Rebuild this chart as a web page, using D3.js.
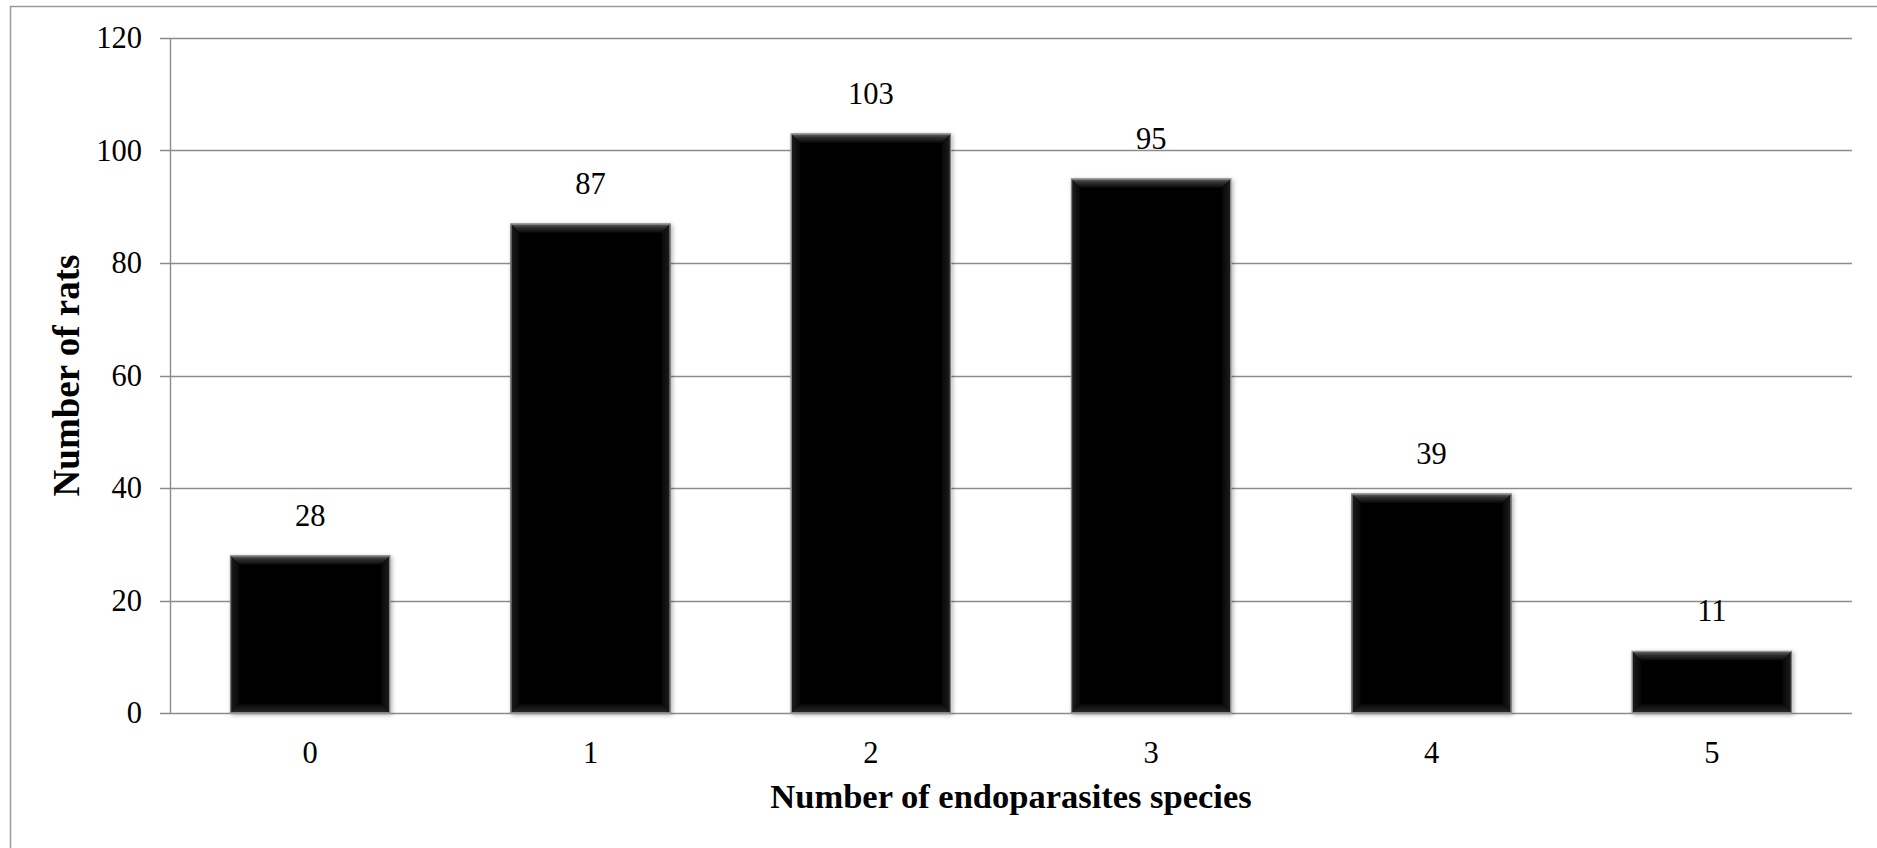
<!DOCTYPE html>
<html>
<head>
<meta charset="utf-8">
<script src="https://cdn.jsdelivr.net/npm/d3@7"></script>
<style>
  html, body { margin: 0; padding: 0; background: #fff; }
  svg { display: block; }
  text { font-family: "Liberation Serif", "Times New Roman", Times, serif; }
</style>
</head>
<body>
<svg id="chart" width="1877" height="848"></svg>
<script>
const categories = ["0", "1", "2", "3", "4", "5"];
const values = [28, 87, 103, 95, 39, 11];
const yTicks = [0, 20, 40, 60, 80, 100, 120];
const xTitle = "Number of endoparasites species";
const yTitle = "Number of rats";

const W = 1877, H = 848;
const margin = { left: 170, right: 25, top: 38, bottom: 135 };
const svg = d3.select("#chart");

// outer border (right/bottom edges lie outside the picture)
svg.append("rect").attr("x", 10.5).attr("y", 6.5).attr("width", W + 20).attr("height", H + 20)
  .attr("fill", "none").attr("stroke", "#9a9a9a").attr("stroke-width", 1.5);

const x = d3.scaleBand().domain(categories).range([margin.left, W - margin.right]).paddingInner(0.43).paddingOuter(0.215);
const y = d3.scaleLinear().domain([0, 120]).range([H - margin.bottom, margin.top]);

const defs = svg.append("defs");
const gTop = defs.append("linearGradient").attr("id", "gTop").attr("x1", 0).attr("y1", 0).attr("x2", 0).attr("y2", 1);
gTop.append("stop").attr("offset", "0%").attr("stop-color", "#6a6a6a");
gTop.append("stop").attr("offset", "45%").attr("stop-color", "#2e2e2e");
gTop.append("stop").attr("offset", "100%").attr("stop-color", "#0a0a0a");
const gBot = defs.append("linearGradient").attr("id", "gBot").attr("x1", 0).attr("y1", 1).attr("x2", 0).attr("y2", 0);
gBot.append("stop").attr("offset", "0%").attr("stop-color", "#2a2a2a");
gBot.append("stop").attr("offset", "100%").attr("stop-color", "#080808");
const gL = defs.append("linearGradient").attr("id", "gL").attr("x1", 0).attr("y1", 0).attr("x2", 1).attr("y2", 0);
gL.append("stop").attr("offset", "0%").attr("stop-color", "#1e1e1e");
gL.append("stop").attr("offset", "100%").attr("stop-color", "#070707");
const gR = defs.append("linearGradient").attr("id", "gR").attr("x1", 1).attr("y1", 0).attr("x2", 0).attr("y2", 0);
gR.append("stop").attr("offset", "0%").attr("stop-color", "#1e1e1e");
gR.append("stop").attr("offset", "100%").attr("stop-color", "#070707");
const shadow = defs.append("filter").attr("id", "shadow").attr("x", "-10%").attr("y", "-10%").attr("width", "120%").attr("height", "120%");
shadow.append("feDropShadow").attr("dx", 1.5).attr("dy", 1.5).attr("stdDeviation", 2).attr("flood-color", "#000").attr("flood-opacity", 0.3);

// gridlines
const grid = svg.append("g");
grid.selectAll("line").data(yTicks).join("line")
  .attr("x1", margin.left - 10).attr("x2", W - margin.right)
  .attr("y1", d => Math.round(y(d)) + 0.5).attr("y2", d => Math.round(y(d)) + 0.5)
  .attr("stroke", "#8c8c8c").attr("stroke-width", 1.4);

// y axis line
svg.append("line").attr("x1", margin.left + 0.5).attr("x2", margin.left + 0.5)
  .attr("y1", y(120)).attr("y2", y(0))
  .attr("stroke", "#8c8c8c").attr("stroke-width", 1.4);

// y tick labels
svg.append("g").selectAll("text").data(yTicks).join("text")
  .attr("x", margin.left - 28).attr("y", d => y(d)).attr("dy", "0.34em")
  .attr("text-anchor", "end").attr("font-size", 30.5).attr("fill", "#000")
  .text(d => d);

// bars
const bev = 9;
const bars = svg.append("g").selectAll("g").data(values).join("g");
bars.each(function(v, i) {
  const g = d3.select(this);
  const x0 = x(categories[i]), x1 = x0 + x.bandwidth();
  const y0 = y(v), y1 = y(0);
  const b = Math.min(bev, (y1 - y0) / 2);
  g.append("rect").attr("x", x0).attr("y", y0).attr("width", x1 - x0).attr("height", y1 - y0)
    .attr("fill", "#060606").attr("stroke", "#b0b0b0").attr("stroke-width", 1).attr("filter", "url(#shadow)");
  g.append("polygon").attr("points", [[x0, y0], [x1, y0], [x1 - b, y0 + b], [x0 + b, y0 + b]].join(" ")).attr("fill", "url(#gTop)");
  g.append("polygon").attr("points", [[x0, y1], [x1, y1], [x1 - b, y1 - b], [x0 + b, y1 - b]].join(" ")).attr("fill", "url(#gBot)");
  g.append("polygon").attr("points", [[x0, y0], [x0 + b, y0 + b], [x0 + b, y1 - b], [x0, y1]].join(" ")).attr("fill", "url(#gL)");
  g.append("polygon").attr("points", [[x1, y0], [x1 - b, y0 + b], [x1 - b, y1 - b], [x1, y1]].join(" ")).attr("fill", "url(#gR)");
  g.append("rect").attr("x", x0 + 0.5).attr("y", y0 + 0.5).attr("width", x1 - x0 - 1).attr("height", y1 - y0 - 1)
    .attr("fill", "none").attr("stroke", "#a0a0a0").attr("stroke-width", 0.8);
});

// value labels
svg.append("g").selectAll("text").data(values).join("text")
  .attr("x", (d, i) => x(categories[i]) + x.bandwidth() / 2).attr("y", d => y(d) - 30)
  .attr("text-anchor", "middle").attr("font-size", 30.5).attr("fill", "#000")
  .text(d => d);

// x tick labels
svg.append("g").selectAll("text").data(categories).join("text")
  .attr("x", d => x(d) + x.bandwidth() / 2).attr("y", y(0) + 50)
  .attr("text-anchor", "middle").attr("font-size", 30.5).attr("fill", "#000")
  .text(d => d);

// axis titles
svg.append("text").attr("x", 1011).attr("y", 808)
  .attr("text-anchor", "middle").attr("font-size", 34.5).attr("font-weight", "bold")
  .text(xTitle);
svg.append("text").attr("transform", `translate(79, ${(y(0) + y(120)) / 2}) rotate(-90)`)
  .attr("text-anchor", "middle").attr("font-size", 37).attr("font-weight", "bold")
  .text(yTitle);
</script>
</body>
</html>
